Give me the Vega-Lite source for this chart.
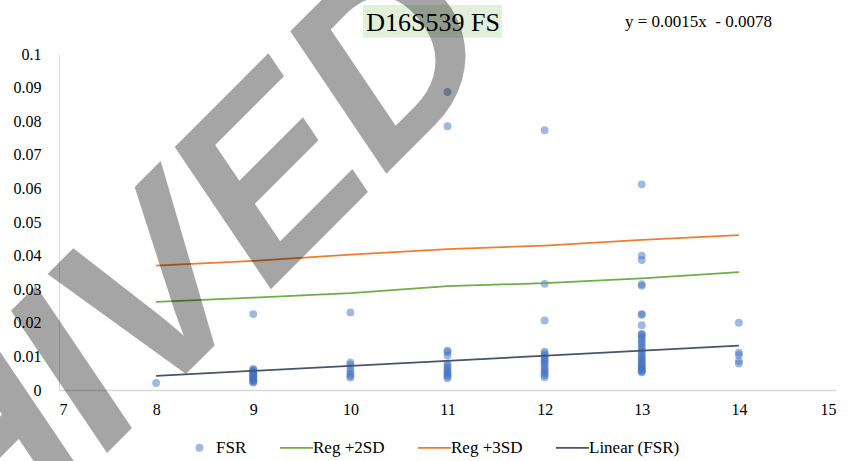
{
  "$schema": "https://vega.github.io/schema/vega-lite/v6.json",
  "autosize": {"type": "none"},
  "padding": {"left": 59, "top": 54, "right": 19, "bottom": 71},
  "width": 777,
  "height": 336,
  "background": "#ffffff",
  "datasets": {
    "fsr": [
      {"allele": 8, "fsr": 0.0021},
      {"allele": 9, "fsr": 0.0226},
      {"allele": 9, "fsr": 0.0063}, {"allele": 9, "fsr": 0.006}, {"allele": 9, "fsr": 0.0057}, {"allele": 9, "fsr": 0.0054},
      {"allele": 9, "fsr": 0.0051}, {"allele": 9, "fsr": 0.0048}, {"allele": 9, "fsr": 0.0045}, {"allele": 9, "fsr": 0.0042},
      {"allele": 9, "fsr": 0.0039}, {"allele": 9, "fsr": 0.0036}, {"allele": 9, "fsr": 0.0033}, {"allele": 9, "fsr": 0.003},
      {"allele": 9, "fsr": 0.0027}, {"allele": 9, "fsr": 0.0024}, {"allele": 9, "fsr": 0.0022},
      {"allele": 10, "fsr": 0.0231},
      {"allele": 10, "fsr": 0.0082}, {"allele": 10, "fsr": 0.0075}, {"allele": 10, "fsr": 0.0065}, {"allele": 10, "fsr": 0.0055},
      {"allele": 10, "fsr": 0.0048}, {"allele": 10, "fsr": 0.0042}, {"allele": 10, "fsr": 0.0037},
      {"allele": 11, "fsr": 0.0887}, {"allele": 11, "fsr": 0.0785},
      {"allele": 11, "fsr": 0.0117}, {"allele": 11, "fsr": 0.0113}, {"allele": 11, "fsr": 0.0103},
      {"allele": 11, "fsr": 0.0079}, {"allele": 11, "fsr": 0.0072}, {"allele": 11, "fsr": 0.0066}, {"allele": 11, "fsr": 0.006},
      {"allele": 11, "fsr": 0.0055}, {"allele": 11, "fsr": 0.005}, {"allele": 11, "fsr": 0.0045}, {"allele": 11, "fsr": 0.004},
      {"allele": 11, "fsr": 0.0035},
      {"allele": 12, "fsr": 0.0773}, {"allele": 12, "fsr": 0.0316}, {"allele": 12, "fsr": 0.0207},
      {"allele": 12, "fsr": 0.0114}, {"allele": 12, "fsr": 0.0108}, {"allele": 12, "fsr": 0.0102}, {"allele": 12, "fsr": 0.0095},
      {"allele": 12, "fsr": 0.009}, {"allele": 12, "fsr": 0.0085}, {"allele": 12, "fsr": 0.008}, {"allele": 12, "fsr": 0.0073},
      {"allele": 12, "fsr": 0.0066}, {"allele": 12, "fsr": 0.006}, {"allele": 12, "fsr": 0.0055}, {"allele": 12, "fsr": 0.005},
      {"allele": 12, "fsr": 0.0044}, {"allele": 12, "fsr": 0.0038},
      {"allele": 13, "fsr": 0.0612}, {"allele": 13, "fsr": 0.04}, {"allele": 13, "fsr": 0.0387},
      {"allele": 13, "fsr": 0.0315}, {"allele": 13, "fsr": 0.031},
      {"allele": 13, "fsr": 0.0226}, {"allele": 13, "fsr": 0.0224}, {"allele": 13, "fsr": 0.0193},
      {"allele": 13, "fsr": 0.0167}, {"allele": 13, "fsr": 0.0165}, {"allele": 13, "fsr": 0.016}, {"allele": 13, "fsr": 0.0153},
      {"allele": 13, "fsr": 0.0146}, {"allele": 13, "fsr": 0.014}, {"allele": 13, "fsr": 0.0133}, {"allele": 13, "fsr": 0.0126},
      {"allele": 13, "fsr": 0.012}, {"allele": 13, "fsr": 0.0113}, {"allele": 13, "fsr": 0.0107}, {"allele": 13, "fsr": 0.01},
      {"allele": 13, "fsr": 0.0095}, {"allele": 13, "fsr": 0.009}, {"allele": 13, "fsr": 0.0085}, {"allele": 13, "fsr": 0.008},
      {"allele": 13, "fsr": 0.0075}, {"allele": 13, "fsr": 0.007}, {"allele": 13, "fsr": 0.0066}, {"allele": 13, "fsr": 0.0062},
      {"allele": 13, "fsr": 0.0058}, {"allele": 13, "fsr": 0.0055}, {"allele": 13, "fsr": 0.0053},
      {"allele": 14, "fsr": 0.02}, {"allele": 14, "fsr": 0.0111}, {"allele": 14, "fsr": 0.0104},
      {"allele": 14, "fsr": 0.0086}, {"allele": 14, "fsr": 0.0079}
    ],
    "lines": [
      {"series": "Reg +2SD", "allele": 8, "fsr": 0.0262},
      {"series": "Reg +2SD", "allele": 9, "fsr": 0.0275},
      {"series": "Reg +2SD", "allele": 10, "fsr": 0.0288},
      {"series": "Reg +2SD", "allele": 11, "fsr": 0.0309},
      {"series": "Reg +2SD", "allele": 12, "fsr": 0.0318},
      {"series": "Reg +2SD", "allele": 13, "fsr": 0.0332},
      {"series": "Reg +2SD", "allele": 14, "fsr": 0.0351},
      {"series": "Reg +3SD", "allele": 8, "fsr": 0.037},
      {"series": "Reg +3SD", "allele": 9, "fsr": 0.0384},
      {"series": "Reg +3SD", "allele": 10, "fsr": 0.0403},
      {"series": "Reg +3SD", "allele": 11, "fsr": 0.0419},
      {"series": "Reg +3SD", "allele": 12, "fsr": 0.043},
      {"series": "Reg +3SD", "allele": 13, "fsr": 0.0447},
      {"series": "Reg +3SD", "allele": 14, "fsr": 0.0461},
      {"series": "Linear (FSR)", "allele": 8, "fsr": 0.0042},
      {"series": "Linear (FSR)", "allele": 14, "fsr": 0.0132}
    ]
  },
  "config": {
    "view": {"stroke": null},
    "font": "Liberation Serif",
    "axis": {
      "labelFont": "Liberation Serif",
      "labelFontSize": 16,
      "labelColor": "#000000",
      "labelOverlap": false,
      "grid": false,
      "ticks": false,
      "title": null,
      "domainColor": "#d9d9d9",
      "domainWidth": 1.5
    }
  },
  "layer": [
    {
      "data": {"name": "fsr"},
      "mark": {"type": "point", "filled": true, "size": 62, "opacity": 0.5, "shape": "circle"},
      "encoding": {
        "x": {
          "field": "allele", "type": "quantitative",
          "scale": {"domain": [7, 15], "nice": false, "zero": false},
          "axis": {"values": [7, 8, 9, 10, 11, 12, 13, 14, 15], "labelPadding": 11, "format": "d", "labelOverlap": false}
        },
        "y": {
          "field": "fsr", "type": "quantitative",
          "scale": {"domain": [0, 0.1], "nice": false, "zero": false},
          "axis": {"values": [0, 0.01, 0.02, 0.03, 0.04, 0.05, 0.06, 0.07, 0.08, 0.09, 0.1], "labelPadding": 18, "format": "~g", "domainWidth": 1, "labelOverlap": false}
        },
        "color": {
          "datum": "FSR",
          "type": "nominal",
          "scale": {
            "domain": ["FSR", "Reg +2SD", "Reg +3SD", "Linear (FSR)"],
            "range": ["#4472c4", "#70ad47", "#ed7d31", "#44546a"]
          },
          "legend": {
            "title": null,
            "orient": "none",
            "direction": "horizontal",
            "legendX": 132,
            "legendY": 385,
            "symbolSize": 1089,
            "labelFont": "Liberation Serif",
            "labelFontSize": 17,
            "labelColor": "#000000",
            "labelOffset": 8,
            "columnPadding": 29,
            "encode": {
              "symbols": {
                "update": {
                  "shape": {"signal": "datum.value === 'FSR' ? 'circle' : 'stroke'"},
                  "size": {"signal": "datum.value === 'FSR' ? 62 : 1089"},
                  "opacity": {"signal": "datum.value === 'FSR' ? 0.5 : 1"},
                  "strokeWidth": {"signal": "datum.value === 'FSR' ? 0 : 1.75"},
                  "fill": {"signal": "datum.value === 'FSR' ? '#4472c4' : 'transparent'"},
                  "stroke": {"signal": "datum.value === 'FSR' ? 'transparent' : datum.value === 'Reg +2SD' ? '#70ad47' : datum.value === 'Reg +3SD' ? '#ed7d31' : '#44546a'"}
                }
              }
            }
          }
        }
      }
    },
    {
      "data": {"name": "lines"},
      "mark": {"type": "line", "strokeWidth": 1.75},
      "encoding": {
        "x": {"field": "allele", "type": "quantitative",
          "axis": {"values": [7, 8, 9, 10, 11, 12, 13, 14, 15], "labelPadding": 11, "format": "d", "labelOverlap": false}},
        "y": {"field": "fsr", "type": "quantitative",
          "axis": {"values": [0, 0.01, 0.02, 0.03, 0.04, 0.05, 0.06, 0.07, 0.08, 0.09, 0.1], "labelPadding": 18, "format": "~g", "domainWidth": 1, "labelOverlap": false}},
        "color": {
          "field": "series", "type": "nominal",
          "legend": {
            "title": null,
            "orient": "none",
            "direction": "horizontal",
            "legendX": 132,
            "legendY": 385,
            "symbolSize": 1089,
            "labelFont": "Liberation Serif",
            "labelFontSize": 17,
            "labelColor": "#000000",
            "labelOffset": 8,
            "columnPadding": 29,
            "encode": {
              "symbols": {
                "update": {
                  "shape": {"signal": "datum.value === 'FSR' ? 'circle' : 'stroke'"},
                  "size": {"signal": "datum.value === 'FSR' ? 62 : 1089"},
                  "opacity": {"signal": "datum.value === 'FSR' ? 0.5 : 1"},
                  "strokeWidth": {"signal": "datum.value === 'FSR' ? 0 : 1.75"},
                  "fill": {"signal": "datum.value === 'FSR' ? '#4472c4' : 'transparent'"},
                  "stroke": {"signal": "datum.value === 'FSR' ? 'transparent' : datum.value === 'Reg +2SD' ? '#70ad47' : datum.value === 'Reg +3SD' ? '#ed7d31' : '#44546a'"}
                }
              }
            }
          }
        },
        "detail": {"field": "series"}
      }
    },
    {
      "data": {"values": [{}]},
      "mark": {"type": "rect", "color": "#e2efda", "clip": false},
      "encoding": {
        "x": {"datum": 10.13, "type": "quantitative",
          "axis": {"values": [7, 8, 9, 10, 11, 12, 13, 14, 15], "labelPadding": 11, "format": "d", "labelOverlap": false}},
        "x2": {"datum": 11.56},
        "y": {"datum": 0.1146, "type": "quantitative",
          "axis": {"values": [0, 0.01, 0.02, 0.03, 0.04, 0.05, 0.06, 0.07, 0.08, 0.09, 0.1], "labelPadding": 18, "format": "~g", "domainWidth": 1, "labelOverlap": false}},
        "y2": {"datum": 0.1048}
      }
    },
    {
      "data": {"values": [{}]},
      "mark": {"type": "text", "text": "D16S539 FS", "font": "Liberation Serif", "fontSize": 26, "align": "center", "baseline": "alphabetic", "color": "#000000", "clip": false},
      "encoding": {
        "x": {"datum": 10.851, "type": "quantitative",
          "axis": {"values": [7, 8, 9, 10, 11, 12, 13, 14, 15], "labelPadding": 11, "format": "d", "labelOverlap": false}},
        "y": {"datum": 0.1068, "type": "quantitative",
          "axis": {"values": [0, 0.01, 0.02, 0.03, 0.04, 0.05, 0.06, 0.07, 0.08, 0.09, 0.1], "labelPadding": 18, "format": "~g", "domainWidth": 1, "labelOverlap": false}}
      }
    },
    {
      "data": {"values": [{}]},
      "mark": {"type": "text", "text": "y = 0.0015x\u00a0 - 0.0078", "font": "Liberation Serif", "fontSize": 17, "align": "center", "baseline": "alphabetic", "color": "#000000", "clip": false},
      "encoding": {
        "x": {"datum": 13.584, "type": "quantitative",
          "axis": {"values": [7, 8, 9, 10, 11, 12, 13, 14, 15], "labelPadding": 11, "format": "d", "labelOverlap": false}},
        "y": {"datum": 0.108, "type": "quantitative",
          "axis": {"values": [0, 0.01, 0.02, 0.03, 0.04, 0.05, 0.06, 0.07, 0.08, 0.09, 0.1], "labelPadding": 18, "format": "~g", "domainWidth": 1, "labelOverlap": false}}
      }
    },
    {
      "data": {"values": [{}]},
      "mark": {"type": "text", "text": "ARCHIVED", "font": "Liberation Sans", "fontWeight": "bold", "fontStyle": "italic", "fontSize": 245, "angle": -45, "align": "center", "baseline": "alphabetic", "color": "#000000", "opacity": 0.35, "clip": false},
      "encoding": {
        "x": {"datum": 6.969, "type": "quantitative",
          "axis": {"values": [7, 8, 9, 10, 11, 12, 13, 14, 15], "labelPadding": 11, "format": "d", "labelOverlap": false}},
        "y": {"datum": -0.03393, "type": "quantitative",
          "axis": {"values": [0, 0.01, 0.02, 0.03, 0.04, 0.05, 0.06, 0.07, 0.08, 0.09, 0.1], "labelPadding": 18, "format": "~g", "domainWidth": 1, "labelOverlap": false}}
      }
    }
  ]
}
